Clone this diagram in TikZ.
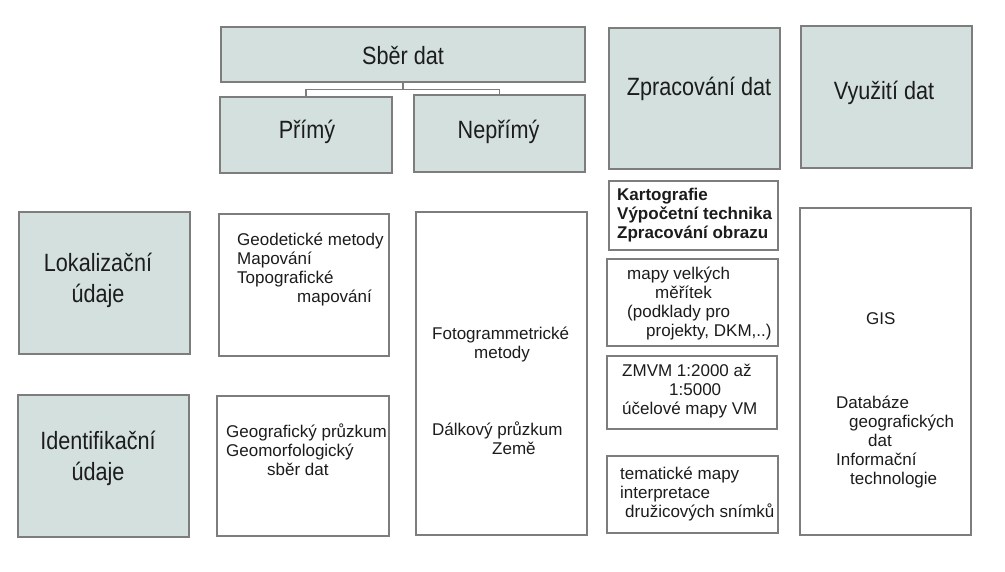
\documentclass[tikz,border=0pt]{standalone}
\usepackage{fontspec}
\setmainfont{Liberation Sans}
\newfontfamily\headfont[FakeStretch=0.865]{Liberation Sans}
\definecolor{boxgrey}{HTML}{D4E0DD}
\definecolor{edge}{HTML}{7D7D7D}
\definecolor{ink}{HTML}{1C1C1C}
\tikzset{
  head/.style={fill=boxgrey, draw=edge, line width=1.4pt, inner sep=0pt},
  plain/.style={fill=white, draw=edge, line width=1.2pt, inner sep=0pt},
  headtxt/.style={text=ink, font=\headfont\fontsize{25}{31}\selectfont, align=center, inner sep=0pt, anchor=base},
  txt/.style={text=ink, font=\fontsize{17}{19}\selectfont, align=left, inner sep=0pt, anchor=base west},
  link/.style={draw=edge, line width=1.2pt},
}
\begin{document}
\begin{tikzpicture}[x=1pt, y=-1pt]
  \useasboundingbox (0,0) rectangle (1005,572);
  % grey heading boxes
  \foreach \n/\x/\y/\w/\h in {sber/403/54.5/364/55, primy/306/135/172/76, neprimy/499.5/133.5/171/77,
      zprac/694.5/98.5/171/141, vyuz/886.5/97/171/142, lokal/104.5/283/171/142, ident/103.5/466/171/142}{
    \node[head, minimum width=\w pt, minimum height=\h pt] (\n) at (\x,\y) {};
  }
  % white content boxes
  \foreach \n/\x/\y/\w/\h in {geod/304/285/170/142, geogr/303/466/172/140, foto/501.5/373.5/171/323,
      karto/693.5/215.5/169/69, mapy/692.5/302.5/171/87, zmvm/692/392.5/170/73,
      tema/692.5/494.5/171/77, gis/885.5/371.5/171/327}{
    \node[plain, minimum width=\w pt, minimum height=\h pt] (\n) at (\x,\y) {};
  }

  % branch under Sber dat
  \coordinate (split) at ([yshift=-7pt]sber.south);
  \draw[link] (sber.south) -- (split) -| (primy.north);
  \draw[link] (split) -| (neprimy.north);

  % headings (anchor = baseline of the last line)
  \node[headtxt] (sber-t) at (403,65) {Sběr dat};
  \node[headtxt] (primy-t) at (307,139) {Přímý};
  \node[headtxt] (neprimy-t) at (498.5,139) {Nepřímý};
  \node[headtxt] (zprac-t) at (699,95.5) {Zpracování dat};
  \node[headtxt] (vyuz-t) at (884,99.3) {Využití dat};
  \node[headtxt] (lokal-t) at (98,302.7) {Lokalizační\\údaje};
  \node[headtxt] (ident-t) at (98,480.3) {Identifikační\\údaje};

  % box texts
  \node[txt] (geod-t) at (237,303) {Geodetické metody\\Mapování\\Topografické\\\hspace*{60pt}mapování};
  \node[txt] (geogr-t) at (226,475) {Geografický průzkum\\Geomorfologický\\\hspace*{41pt}sběr dat};
  \node[txt] (foto-t) at (432,359) {Fotogrammetrické\\\hspace*{42pt}metody};
  \node[txt] (dalk-t) at (432,454) {Dálkový průzkum\\\hspace*{60pt}Země};
  \node[txt, font=\bfseries\fontsize{17}{19}\selectfont] (karto-t) at (617,239) {Kartografie\\Výpočetní technika\\Zpracování obrazu};
  \node[txt] (mapy-t) at (627,337) {mapy velkých\\\hspace*{28pt}měřítek\\(podklady pro\\\hspace*{19pt}projekty, DKM,..)};
  \node[txt] (zmvm-t) at (622,414) {ZMVM 1:2000 až\\\hspace*{47pt}1:5000\\účelové mapy VM};
  \node[txt] (tema-t) at (620,517) {tematické mapy\\interpretace\\\hspace*{5pt}družicových snímků};
  \node[txt] (gis-t) at (866,325) {GIS};
  \node[txt] (datab-t) at (836,484) {Databáze\\\hspace*{13pt}geografických\\\hspace*{32pt}dat\\Informační\\\hspace*{14pt}technologie};
\end{tikzpicture}
\end{document}
